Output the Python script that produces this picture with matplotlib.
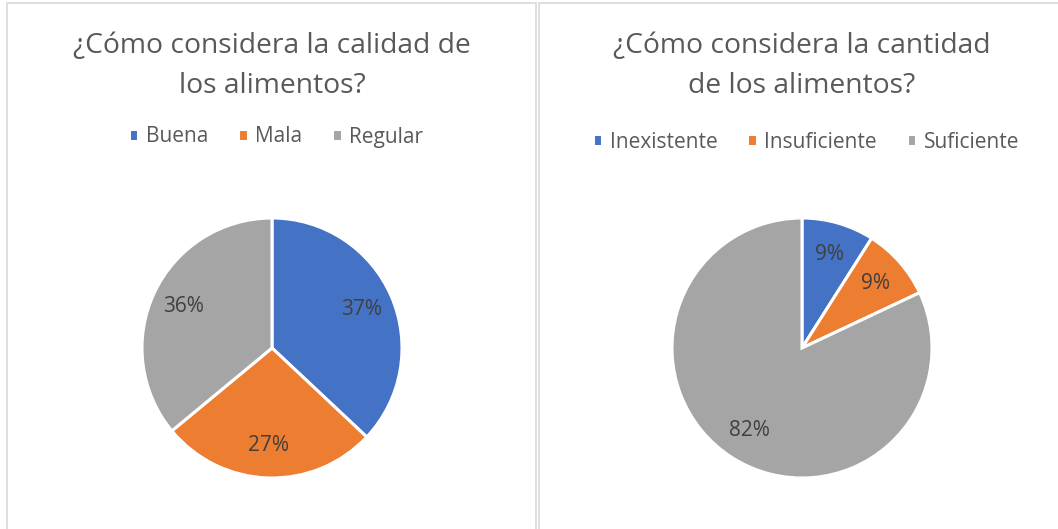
import numpy as np
import matplotlib.pyplot as plt
from matplotlib.patches import Rectangle

plt.rcParams['font.family'] = ['Open Sans', 'DejaVu Sans']

# data
calidad_labels = ['Buena', 'Mala', 'Regular']
calidad_values = [37, 27, 36]
cantidad_labels = ['Inexistente', 'Insuficiente', 'Suficiente']
cantidad_values = [9, 9, 82]
colors = ['#4472C4', '#ED7D31', '#A5A5A5']

W, H = 1058, 529
fig = plt.figure(figsize=(W / 100, H / 100), dpi=100)


def px_axes(cx, cy, r):
    return fig.add_axes([(cx - r) / W, (H - cy - r) / H, 2 * r / W, 2 * r / H])


# panel borders
fig.add_artist(Rectangle((7 / W, -0.1), (536 - 7) / W, (H - 3) / H + 0.1,
                         transform=fig.transFigure, fill=False,
                         edgecolor='#D9D9D9', linewidth=1.2))
fig.add_artist(Rectangle((538.5 / W, -0.1), 0.6, (H - 3) / H + 0.1,
                         transform=fig.transFigure, fill=False,
                         edgecolor='#D9D9D9', linewidth=1.2))


def draw_pie(cx, title, labels, values, legend_y):
    ax = px_axes(cx, 348, 130)
    wedges, _ = ax.pie(values, colors=colors, startangle=90, counterclock=False,
                       wedgeprops=dict(edgecolor='white', linewidth=2.2))
    total = sum(values)
    ang = 90.0
    for w, v in zip(wedges, values):
        mid = ang - v / total * 180
        ang -= v / total * 360
        r = 0.75
        ax.text(r * np.cos(np.radians(mid)), r * np.sin(np.radians(mid)),
                '%.0f%%' % (v / total * 100), ha='center', va='center',
                fontsize=15, color='#404040')
    ax.set_xlim(-1, 1)
    ax.set_ylim(-1, 1)
    fig.text(cx / W, 1 - 66 / H, title, ha='center', va='center',
             fontsize=20.3, color='#595959', linespacing=1.57)
    fig.legend(wedges, labels, ncol=3, loc='center',
               bbox_to_anchor=((cx + 4) / W, 1 - legend_y / H), frameon=False,
               fontsize=15, labelcolor='#595959', handlelength=0.45,
               handleheight=0.45, handletextpad=0.35, columnspacing=1.45)
    return ax


draw_pie(272, '¿Cómo considera la calidad de\nlos alimentos?',
         calidad_labels, calidad_values, 137)
draw_pie(802, '¿Cómo considera la cantidad\nde los alimentos?',
         cantidad_labels, cantidad_values, 142)

fig.savefig('out.png', dpi=100)
